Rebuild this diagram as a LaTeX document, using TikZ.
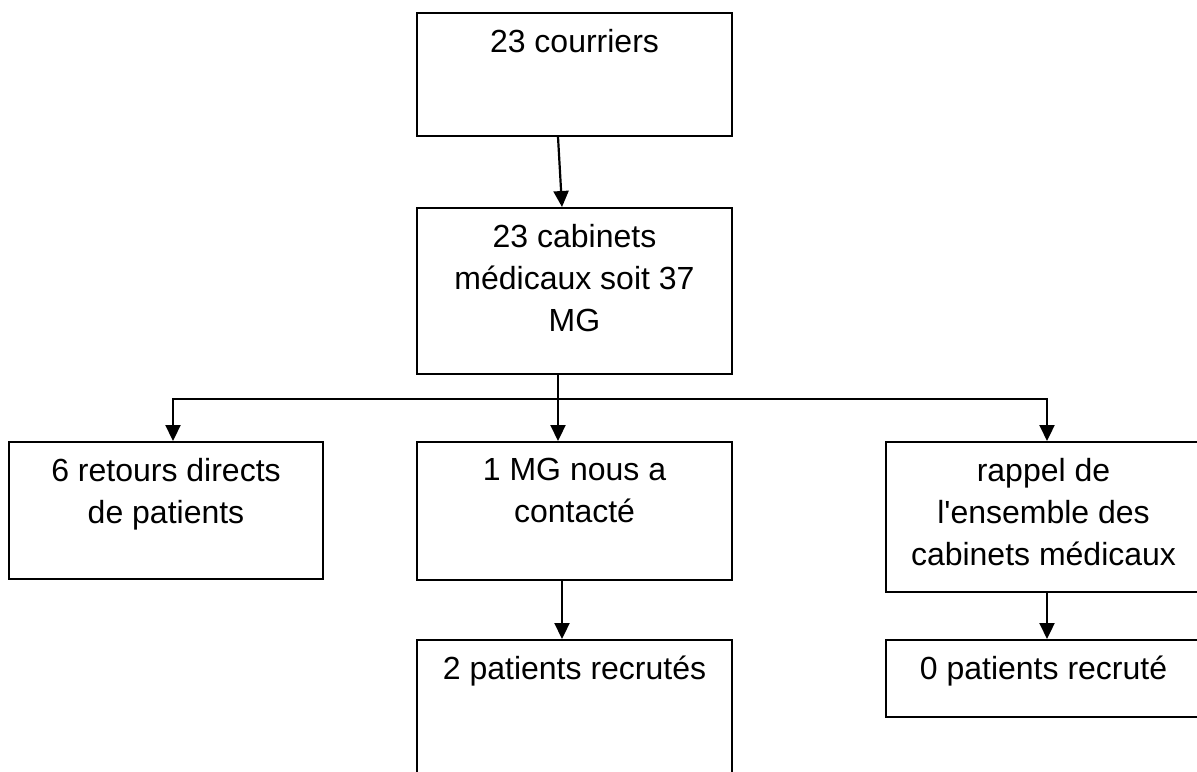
\documentclass[tikz,border=0pt]{standalone}
\usepackage{fontspec}
\newfontfamily\libsans{Liberation Sans}
\usetikzlibrary{arrows.meta}
\begin{document}
\begin{tikzpicture}[x=0.5pt,y=-0.5pt,
  box/.style={draw=black,line width=1pt,inner sep=0pt,minimum width=157.5pt},
  txt/.style={inner sep=0pt,anchor=north,align=center,font=\libsans\fontsize{16}{21}\selectfont},
  arr/.style={line width=1.1pt,-{Triangle[width=7.5pt,length=8pt]}},
  ln/.style={line width=1.1pt}]
\useasboundingbox (0,0) rectangle (1197,771);
\clip (0,0) rectangle (1197,771);
% boxes
\node[box,minimum height=61.5pt] (b1) at (574.5,74.5) {};
\node[box,minimum height=83pt] (b2) at (574.5,291) {};
\node[box,minimum width=157pt,minimum height=68.5pt] (b3) at (166,510.5) {};
\node[box,minimum height=69pt] (b4) at (574.5,511) {};
\node[box,minimum height=75pt] (b5) at (1043.5,517) {};
\node[box,minimum height=70pt] (b6) at (574.5,710) {};
\node[box,minimum height=38.5pt] (b7) at (1043.5,678.5) {};
% texts
\node[txt] (t1) at ([yshift=-8.5pt]b1.north) {23 courriers};
\node[txt] (t2) at ([yshift=-8.5pt]b2.north) {23 cabinets\\médicaux soit 37\\MG};
\node[txt] (t3) at ([yshift=-8.5pt]b3.north) {6 retours directs\\de patients};
\node[txt] (t4) at ([yshift=-8.5pt]b4.north) {1 MG nous a\\contacté};
\node[txt] (t5) at ([yshift=-8.5pt]b5.north) {rappel de\\l'ensemble des\\cabinets médicaux};
\node[txt] (t6) at ([yshift=-8.5pt]b6.north) {2 patients recrutés};
\node[txt] (t7) at ([yshift=-8.5pt]b7.north) {0 patients recruté};
% helper coordinates
\coordinate (c558) at (558,0);
\coordinate (c562) at (562,0);
\coordinate (c173) at (173,0);
\coordinate (c1047) at (1047,0);
\coordinate (j) at (558,399);
% connectors
\draw[arr] (b1.south -| c558) -- (b2.north -| c562);
\draw[arr] (b2.south -| c558) -- (b4.north -| c558);
\draw[arr,line join=miter] (j) -| (b3.north -| c173);
\draw[arr,line join=miter] (j) -| (b5.north -| c1047);
\draw[arr] (b4.south -| c562) -- (b6.north -| c562);
\draw[arr] (b5.south -| c1047) -- (b7.north -| c1047);
\end{tikzpicture}
\end{document}
